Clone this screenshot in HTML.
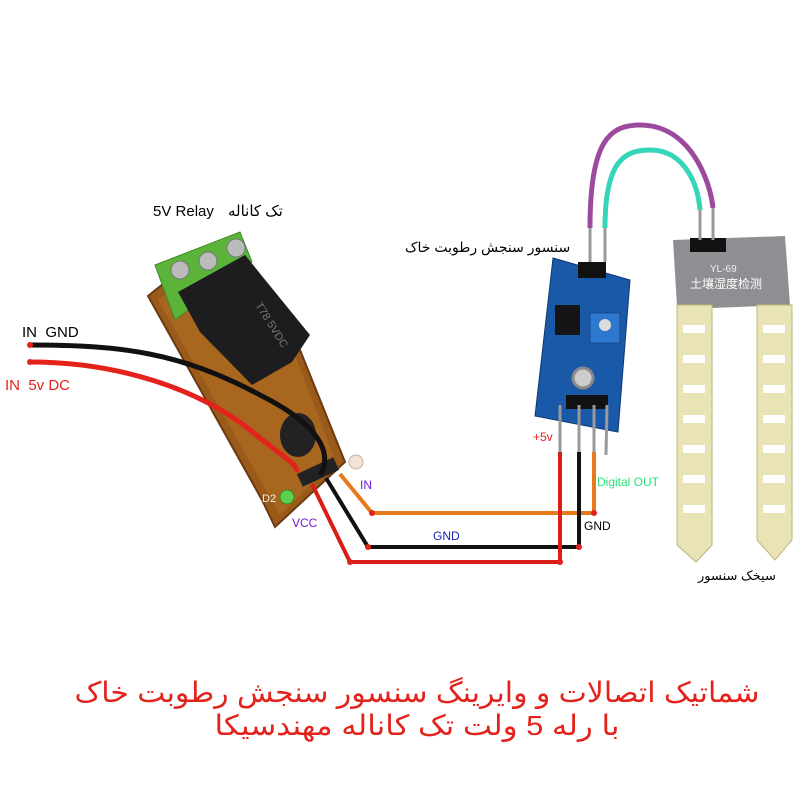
<!DOCTYPE html>
<html><head><meta charset="utf-8"><style>
html,body{margin:0;padding:0;background:#fff}
svg{display:block}
text{font-family:"Liberation Sans","DejaVu Sans",sans-serif}
</style></head><body>
<svg width="800" height="800" viewBox="0 0 800 800" xmlns="http://www.w3.org/2000/svg">
<rect width="800" height="800" fill="#fff"/>
<polygon points="148,296 195,258 300,350 345,462 275,527 262,500" fill="#9a5a1a" stroke="#6b3a10" stroke-width="2"/>
<polygon points="158,300 200,268 295,355 335,460 280,515" fill="#a8661f"/>
<polygon points="155,265 240,232 252,262 175,320" fill="#5cb33a" stroke="#3c8a26"/>
<circle cx="180" cy="270" r="9" fill="#bbb" stroke="#777"/>
<circle cx="208" cy="261" r="9" fill="#bbb" stroke="#777"/>
<circle cx="236" cy="248" r="9" fill="#bbb" stroke="#777"/>
<polygon points="178,292 245,255 310,335 292,362 252,385 200,332" fill="#1d1d1f"/>
<text x="255" y="305" fill="#777" font-size="11" transform="rotate(58 255 305)">T78 5VDC</text>
<ellipse cx="298" cy="435" rx="18" ry="22" fill="#222"/>
<rect x="298" y="465" width="40" height="14" fill="#222" transform="rotate(-25 318 472)"/>
<circle cx="287" cy="497" r="7" fill="#5ed04f" stroke="#2e8a24"/>
<circle cx="356" cy="462" r="7" fill="#f0e2d4" stroke="#c8b0a0"/>
<text x="262" y="502" fill="#eee" font-size="11">D2</text>
<path d="M30,345 C120,345 180,352 260,395 C330,430 330,460 320,475" fill="none" stroke="#111" stroke-width="5"/>
<path d="M30,362 C120,362 200,390 250,430 C280,455 300,465 296,472" fill="none" stroke="#e3221b" stroke-width="5"/>
<circle cx="30" cy="345" r="3" fill="#e3221b"/><circle cx="30" cy="362" r="3" fill="#e3221b"/>
<polyline points="340,474 372,513 594,513 594,452" fill="none" stroke="#e87a1e" stroke-width="4"/>
<polyline points="326,478 368,547 579,547 579,452" fill="none" stroke="#111" stroke-width="4"/>
<polyline points="312,484 350,562 560,562 560,452" fill="none" stroke="#d91e18" stroke-width="4"/>
<g fill="#e3221b"><circle cx="372" cy="513" r="3"/><circle cx="594" cy="513" r="3"/><circle cx="368" cy="547" r="3"/><circle cx="579" cy="547" r="3"/><circle cx="350" cy="562" r="3"/><circle cx="560" cy="562" r="3"/></g>
<polygon points="553,258 630,280 618,432 535,416" fill="#1a58a8" stroke="#0d3a75"/>
<rect x="578" y="262" width="28" height="16" fill="#111"/>
<rect x="555" y="305" width="25" height="30" fill="#151515"/>
<rect x="590" y="313" width="30" height="30" fill="#2f78d0" stroke="#1a4a90"/>
<circle cx="605" cy="325" r="6" fill="#ddd"/>
<circle cx="583" cy="378" r="10" fill="#ccc" stroke="#888" stroke-width="3"/>
<rect x="566" y="395" width="42" height="14" fill="#111"/>
<g stroke="#999" stroke-width="3"><line x1="560" y1="405" x2="560" y2="452"/><line x1="579" y1="405" x2="579" y2="452"/><line x1="594" y1="405" x2="594" y2="452"/><line x1="607" y1="405" x2="606" y2="455"/></g>
<g stroke="#999" stroke-width="3"><line x1="590" y1="262" x2="590" y2="228"/><line x1="605" y1="262" x2="605" y2="228"/></g>
<path d="M590,228 C590,140 610,125 640,125 C690,125 710,180 713,208" fill="none" stroke="#9b4a9e" stroke-width="5"/>
<path d="M605,228 C605,160 625,150 650,150 C685,150 698,185 700,210" fill="none" stroke="#35d6b8" stroke-width="5"/>
<polygon points="673,240 785,236 790,305 712,308 677,306" fill="#8d8f92"/>
<polygon points="677,305 712,305 712,545 696,562 677,545" fill="#e8e4b5" stroke="#bdb47a"/>
<polygon points="757,305 792,305 792,540 775,560 757,540" fill="#e8e4b5" stroke="#bdb47a"/>
<rect x="690" y="238" width="36" height="14" fill="#111"/>
<g stroke="#999" stroke-width="3"><line x1="700" y1="210" x2="700" y2="240"/><line x1="713" y1="208" x2="713" y2="240"/></g>
<text x="710" y="272" font-size="10" fill="#eee">YL-69</text>
<text x="690" y="288" font-size="12" fill="#fff" font-family="Noto Sans CJK SC,sans-serif">土壤湿度检测</text>
<g fill="#fff"><rect x="683" y="325" width="22" height="8"/><rect x="683" y="355" width="22" height="8"/><rect x="683" y="385" width="22" height="8"/><rect x="683" y="415" width="22" height="8"/><rect x="683" y="445" width="22" height="8"/><rect x="683" y="475" width="22" height="8"/><rect x="683" y="505" width="22" height="8"/>
<rect x="763" y="325" width="22" height="8"/><rect x="763" y="355" width="22" height="8"/><rect x="763" y="385" width="22" height="8"/><rect x="763" y="415" width="22" height="8"/><rect x="763" y="445" width="22" height="8"/><rect x="763" y="475" width="22" height="8"/><rect x="763" y="505" width="22" height="8"/></g>
<text x="22" y="337" font-size="15" fill="#000" xml:space="preserve">IN  GND</text>
<text x="5" y="390" font-size="15" fill="#e3221b" xml:space="preserve">IN  5v DC</text>
<text x="153" y="216" font-size="15" fill="#000">5V Relay</text>
<text x="228" y="216" font-size="15" fill="#000" font-family="DejaVu Sans,sans-serif">تک کاناله</text>
<text x="405" y="252" font-size="14" fill="#000" font-family="DejaVu Sans,sans-serif">سنسور سنجش رطوبت خاک</text>
<text x="292" y="527" font-size="12" fill="#6a1ad0">VCC</text>
<text x="360" y="489" font-size="12" fill="#6a1ad0">IN</text>
<text x="433" y="540" font-size="12" fill="#2020b0">GND</text>
<text x="533" y="441" font-size="12" fill="#e3221b">+5v</text>
<text x="597" y="486" font-size="12" fill="#2be07a">Digital  OUT</text>
<text x="584" y="530" font-size="12" fill="#000">GND</text>
<text x="698" y="580" font-size="13" fill="#000" font-family="DejaVu Sans,sans-serif">سیخک سنسور</text>
<text x="417" y="702" font-size="28" fill="#e3221b" text-anchor="middle" textLength="685" lengthAdjust="spacingAndGlyphs" font-family="DejaVu Sans,sans-serif">شماتیک اتصالات و وایرینگ سنسور سنجش رطوبت خاک</text>
<text x="417" y="735" font-size="28" fill="#e3221b" text-anchor="middle" textLength="405" lengthAdjust="spacingAndGlyphs" font-family="DejaVu Sans,sans-serif">با رله 5 ولت تک کاناله مهندسیکا</text>
</svg>
</body></html>
